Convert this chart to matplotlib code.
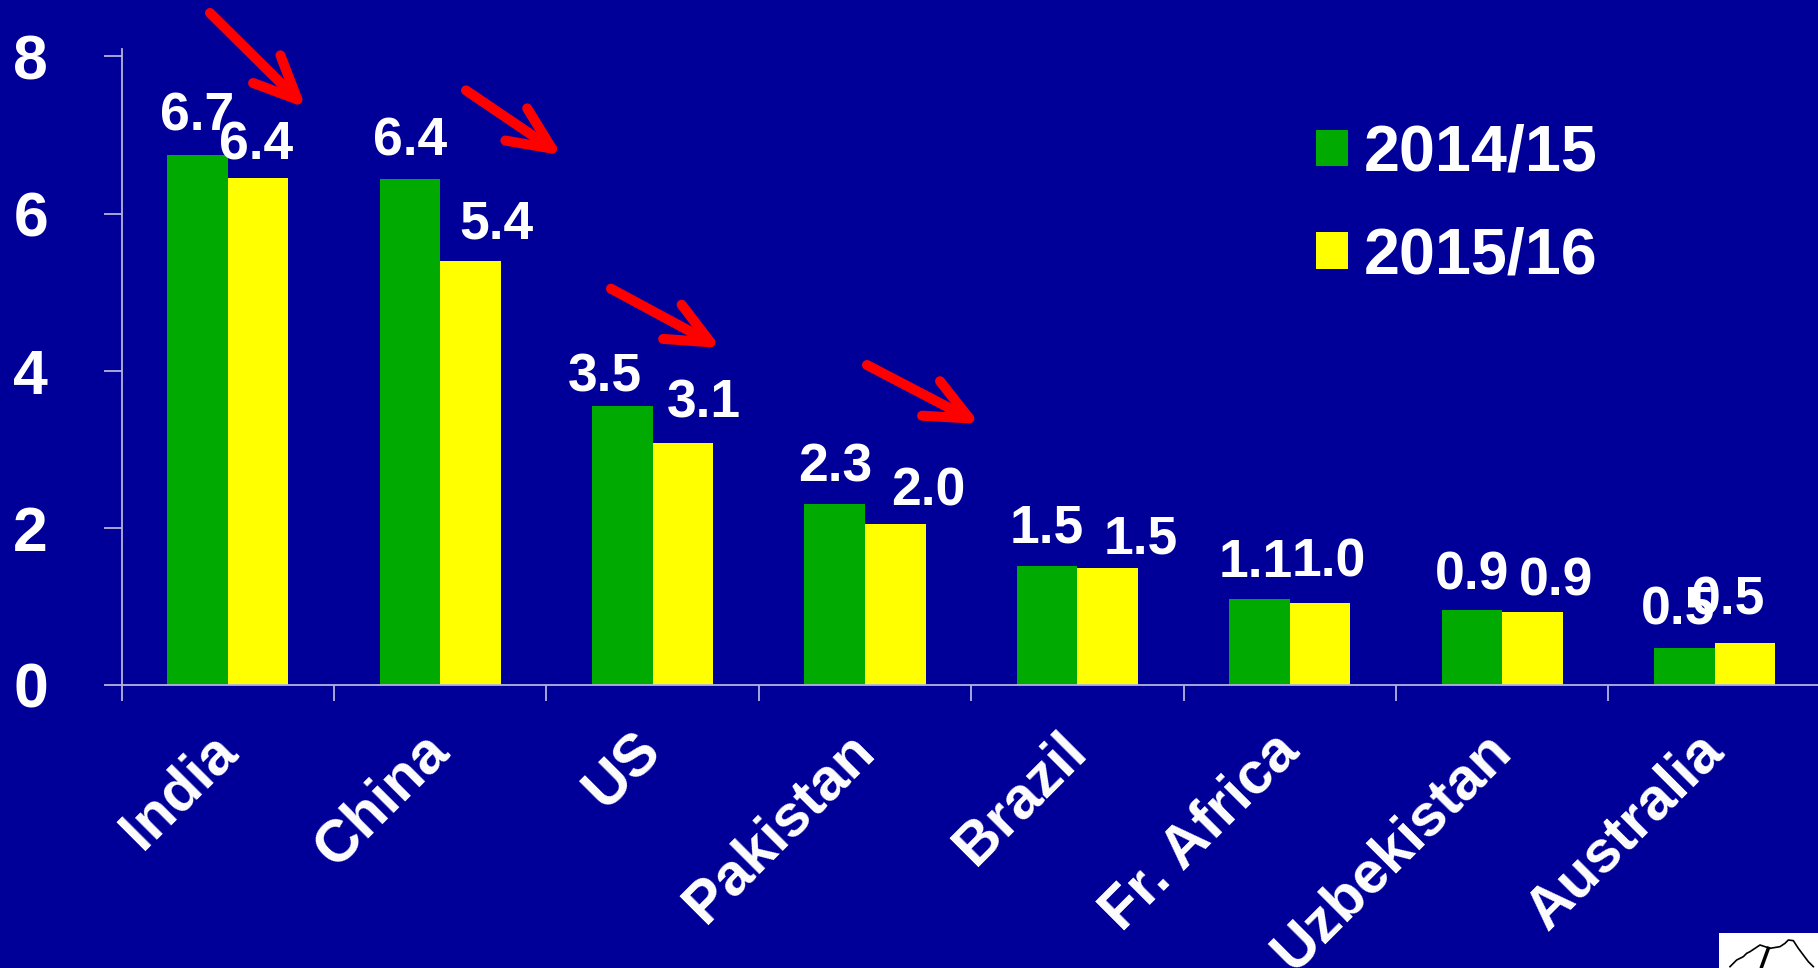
import numpy as np
import matplotlib
matplotlib.use("Agg")
import matplotlib.pyplot as plt
from matplotlib.patches import FancyArrowPatch, Rectangle, Patch
from matplotlib.lines import Line2D

# ---- data ----
categories = ["India", "China", "US", "Pakistan", "Brazil", "Fr. Africa", "Uzbekistan", "Australia"]
series_names = ["2014/15", "2015/16"]
values_1415 = [6.75, 6.44, 3.55, 2.30, 1.52, 1.10, 0.95, 0.47]
values_1516 = [6.45, 5.40, 3.08, 2.05, 1.49, 1.04, 0.93, 0.53]
labels_1415 = ["6.7", "6.4", "3.5", "2.3", "1.5", "1.1", "0.9", "0.5"]
labels_1516 = ["6.4", "5.4", "3.1", "2.0", "1.5", "1.0", "0.9", "0.5"]
yticks = [0, 2, 4, 6, 8]

# ---- style / layout ----
BG = "#000099"
GREEN = "#00AA00"
YELLOW = "#FFFF00"
AXC = "#B4B4DC"
W, H = 1818, 968
plt.rcParams["font.family"] = ["Liberation Sans", "DejaVu Sans"]
plt.rcParams["font.weight"] = "bold"

# label offsets in pixels (dx, gap above bar)
off_1415 = [(0, 24), (0, 24), (-17, 15), (0, 23), (0, 23), (-4, 22), (0, 21), (-6, 24)]
off_1516 = [(-2, 19), (26, 22), (21, 26), (33, 18), (33, 14), (9, 27), (24, 16), (-17, 29)]

fig = plt.figure(figsize=(W / 100, H / 100), dpi=100, facecolor=BG)
ax = fig.add_axes([121.7 / W, 283 / H, 1699 / W, 636.4 / H], facecolor=BG)

x = np.arange(len(categories))
bw = 0.285
b1 = ax.bar(x - bw / 2, values_1415, bw, color=GREEN, label=series_names[0], zorder=2)
b2 = ax.bar(x + bw / 2, values_1516, bw, color=YELLOW, label=series_names[1], zorder=2)

px2pt = 0.72
for bars, labs, offs in ((b1, labels_1415, off_1415), (b2, labels_1516, off_1516)):
    for r, lab, (dx, dy) in zip(bars, labs, offs):
        ax.annotate(lab, xy=(r.get_x() + r.get_width() / 2, r.get_height()),
                    xytext=(dx * px2pt, dy * px2pt), textcoords="offset points",
                    ha="center", va="baseline", fontsize=38.5, fontweight="bold",
                    color="white", zorder=3)

ax.set_xlim(-0.5, len(categories) - 0.5)
ax.set_ylim(0, 8.1)
for s in ("top", "right"):
    ax.spines[s].set_visible(False)
for s in ("left", "bottom"):
    ax.spines[s].set_color(AXC)
    ax.spines[s].set_linewidth(1.3)

ax.set_yticks(yticks)
ax.set_yticklabels([str(t) for t in yticks])
ax.tick_params(axis="y", direction="out", length=13, width=1.3, color=AXC,
               labelsize=45, labelcolor="white", pad=40)
for t in ax.get_yticklabels():
    t.set_fontweight("bold")

ax.set_xticks(np.arange(len(categories) + 1) - 0.5)
ax.set_xticklabels([])
ax.tick_params(axis="x", which="major", direction="out", length=11.5, width=1.3, color=AXC)
ax.set_xticks(x, minor=True)
ax.set_xticklabels(categories, minor=True, rotation=45, ha="right", va="center",
                   rotation_mode="anchor", fontsize=42.5, fontweight="bold", color="white")
ax.tick_params(axis="x", which="minor", length=0, pad=41)

handles = [Patch(facecolor=GREEN, edgecolor="none"), Patch(facecolor=YELLOW, edgecolor="none")]
leg = ax.legend(handles, series_names, loc="upper left",
                bbox_to_anchor=(1315.5 / W, 1 - 124 / H), bbox_transform=fig.transFigure,
                frameon=False, fontsize=46.5, handlelength=0.5, handleheight=0.5,
                handletextpad=0.25, labelspacing=0.66, borderpad=0, borderaxespad=0)
for t in leg.get_texts():
    t.set_color("white")
    t.set_fontweight("bold")

# red arrows (annotation decoration, figure pixel coords)
arrows = [((210, 13), (306, 108)), ((466, 90.4), (562, 155.4)),
          ((611, 288.7), (721, 348)), ((867, 365), (980, 424))]
for (x0, y0), (x1, y1) in arrows:
    a = FancyArrowPatch((x0 / W, 1 - y0 / H), (x1 / W, 1 - y1 / H),
                        transform=fig.transFigure,
                        arrowstyle="->,head_length=31,head_width=14",
                        mutation_scale=1, color="#FF0000", lw=7.2,
                        capstyle="round", joinstyle="round",
                        shrinkA=0, shrinkB=0, zorder=5)
    fig.add_artist(a)

# logo corner
fig.add_artist(Rectangle((1719 / W, 0), (W - 1719) / W, (H - 933) / H,
                         transform=fig.transFigure, facecolor="white", edgecolor="none"))
lx = [90, 110, 130, 140, 150, 165, 180, 195, 210, 240, 255, 265, 280, 295, 310, 325, 340]
ly = [140, 120, 110, 100, 95, 85, 75, 80, 85, 80, 70, 60, 62, 85, 105, 125, 140]
fig.add_artist(Line2D([(1700 + a / 3) / W for a in lx], [1 - (920 + b / 3) / H for b in ly],
                      transform=fig.transFigure, color="black", lw=1.2))
fig.add_artist(Line2D([(1700 + 205 / 3) / W, (1700 + 185 / 3) / W],
                      [1 - (920 + 85 / 3) / H, 1 - (920 + 140 / 3) / H],
                      transform=fig.transFigure, color="black", lw=2.5))

fig.savefig("out.png", dpi=100, facecolor=BG)
